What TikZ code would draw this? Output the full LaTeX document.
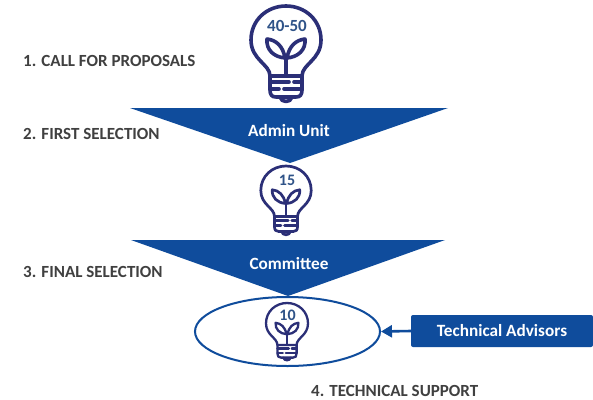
\documentclass[tikz,border=0pt]{standalone}
\usepackage{fontspec}
\setmainfont{Carlito}
\usetikzlibrary{arrows.meta,shapes.geometric}
\definecolor{bluem}{HTML}{0F4C9C}
\definecolor{navy}{HTML}{2B2F77}
\definecolor{numc}{HTML}{2F5388}
\definecolor{labc}{HTML}{404040}
\tikzset{
  x=1pt,y=-1pt,
  steplabel/.style={font=\bfseries\fontsize{17}{19}\selectfont,text=labc,anchor=west,inner sep=0},
  funnel/.style={fill=bluem,draw=none},
  whitelabel/.style={font=\bfseries\fontsize{17.2}{19}\selectfont,text=white,inner sep=0},
  numlabel/.style={text=numc,inner sep=0},
  pics/bulb/.style={code={
    \begin{scope}[draw=navy,line join=round,line cap=round]
      \draw (-16,70) .. controls (-16,58) and (-35,54) .. (-35,34)
            .. controls (-35,14) and (-19,0) .. (0,0)
            .. controls (19,0) and (35,14) .. (35,34)
            .. controls (35,54) and (16,58) .. (16,70);
      \draw (-16,70) -- (16,70) -- (16,84) .. controls (16,89) and (14,91) .. (10,91)
            -- (-10,91) .. controls (-14,91) and (-16,89) .. (-16,84) -- cycle;
      \draw (-6,91) .. controls (-5,97) and (5,97) .. (6,91);
      \draw (0,70) -- (0,50);
      \draw (-1,52) .. controls (-3,40) and (-10,34) .. (-19,33)
            .. controls (-20,44) and (-12,51) .. (-1,52) -- cycle;
      \draw (1,52) .. controls (3,40) and (10,34) .. (19,33)
            .. controls (20,44) and (12,51) .. (1,52) -- cycle;
      \draw (-16,76) -- (3,76);
      \draw (8,76) -- (16,76);
      \draw (-16,83) -- (-7,83);
      \draw (-2,83) -- (16,83);
    \end{scope}
  }}
}
\begin{document}
\begin{tikzpicture}
\useasboundingbox (0,0) rectangle (593,399);
\fill[white] (0,0) rectangle (593,399);
% bulbs
\pic[scale=1,line width=3.6pt] at (286,6) {bulb};
\node[numlabel,font=\bfseries\fontsize{17}{19}\selectfont] (n1) at (287,26) {40-50};
% funnels
\fill[funnel] (130,108) coordinate (f1a) -- (448,108) -- (290,163) -- cycle;
\node[whitelabel] (admin) at (289,131) {Admin Unit};
\pic[scale=0.72,line width=2.7pt] at (286,166) {bulb};
\node[numlabel,font=\bfseries\fontsize{16}{18}\selectfont] (n2) at (287,180) {15};
\fill[funnel] (131,240) -- (445,240) -- (288,296) -- cycle;
\node[whitelabel] (committee) at (289,264) {Committee};
\node[draw=bluem,line width=2pt,ellipse,minimum width=185pt,minimum height=69pt,inner sep=0] (oval) at (287.5,331.5) {};
\pic[scale=0.6,line width=2.3pt] at (287,303) {bulb};
\node[numlabel,font=\bfseries\fontsize{16}{18}\selectfont] (n3) at (287.5,315) {10};
\node[fill=bluem,rounded corners=2pt,minimum width=182pt,minimum height=32pt,inner sep=0,font=\bfseries\fontsize{17.2}{19}\selectfont,text=white] (adv) at (502,331) {Technical Advisors};
\draw[bluem,line width=2.6pt,-{Triangle[length=11pt,width=12pt]}] (adv.west) -- (oval.east);
% labels
\node[steplabel] (l1) at (23,61) {1. CALL FOR PROPOSALS};
\node[steplabel] (l2) at (23,134) {2. FIRST SELECTION};
\node[steplabel] (l3) at (23,272) {3. FINAL SELECTION};
\node[steplabel] (l4) at (311,390.5) {4. TECHNICAL SUPPORT};
\end{tikzpicture}
\end{document}
